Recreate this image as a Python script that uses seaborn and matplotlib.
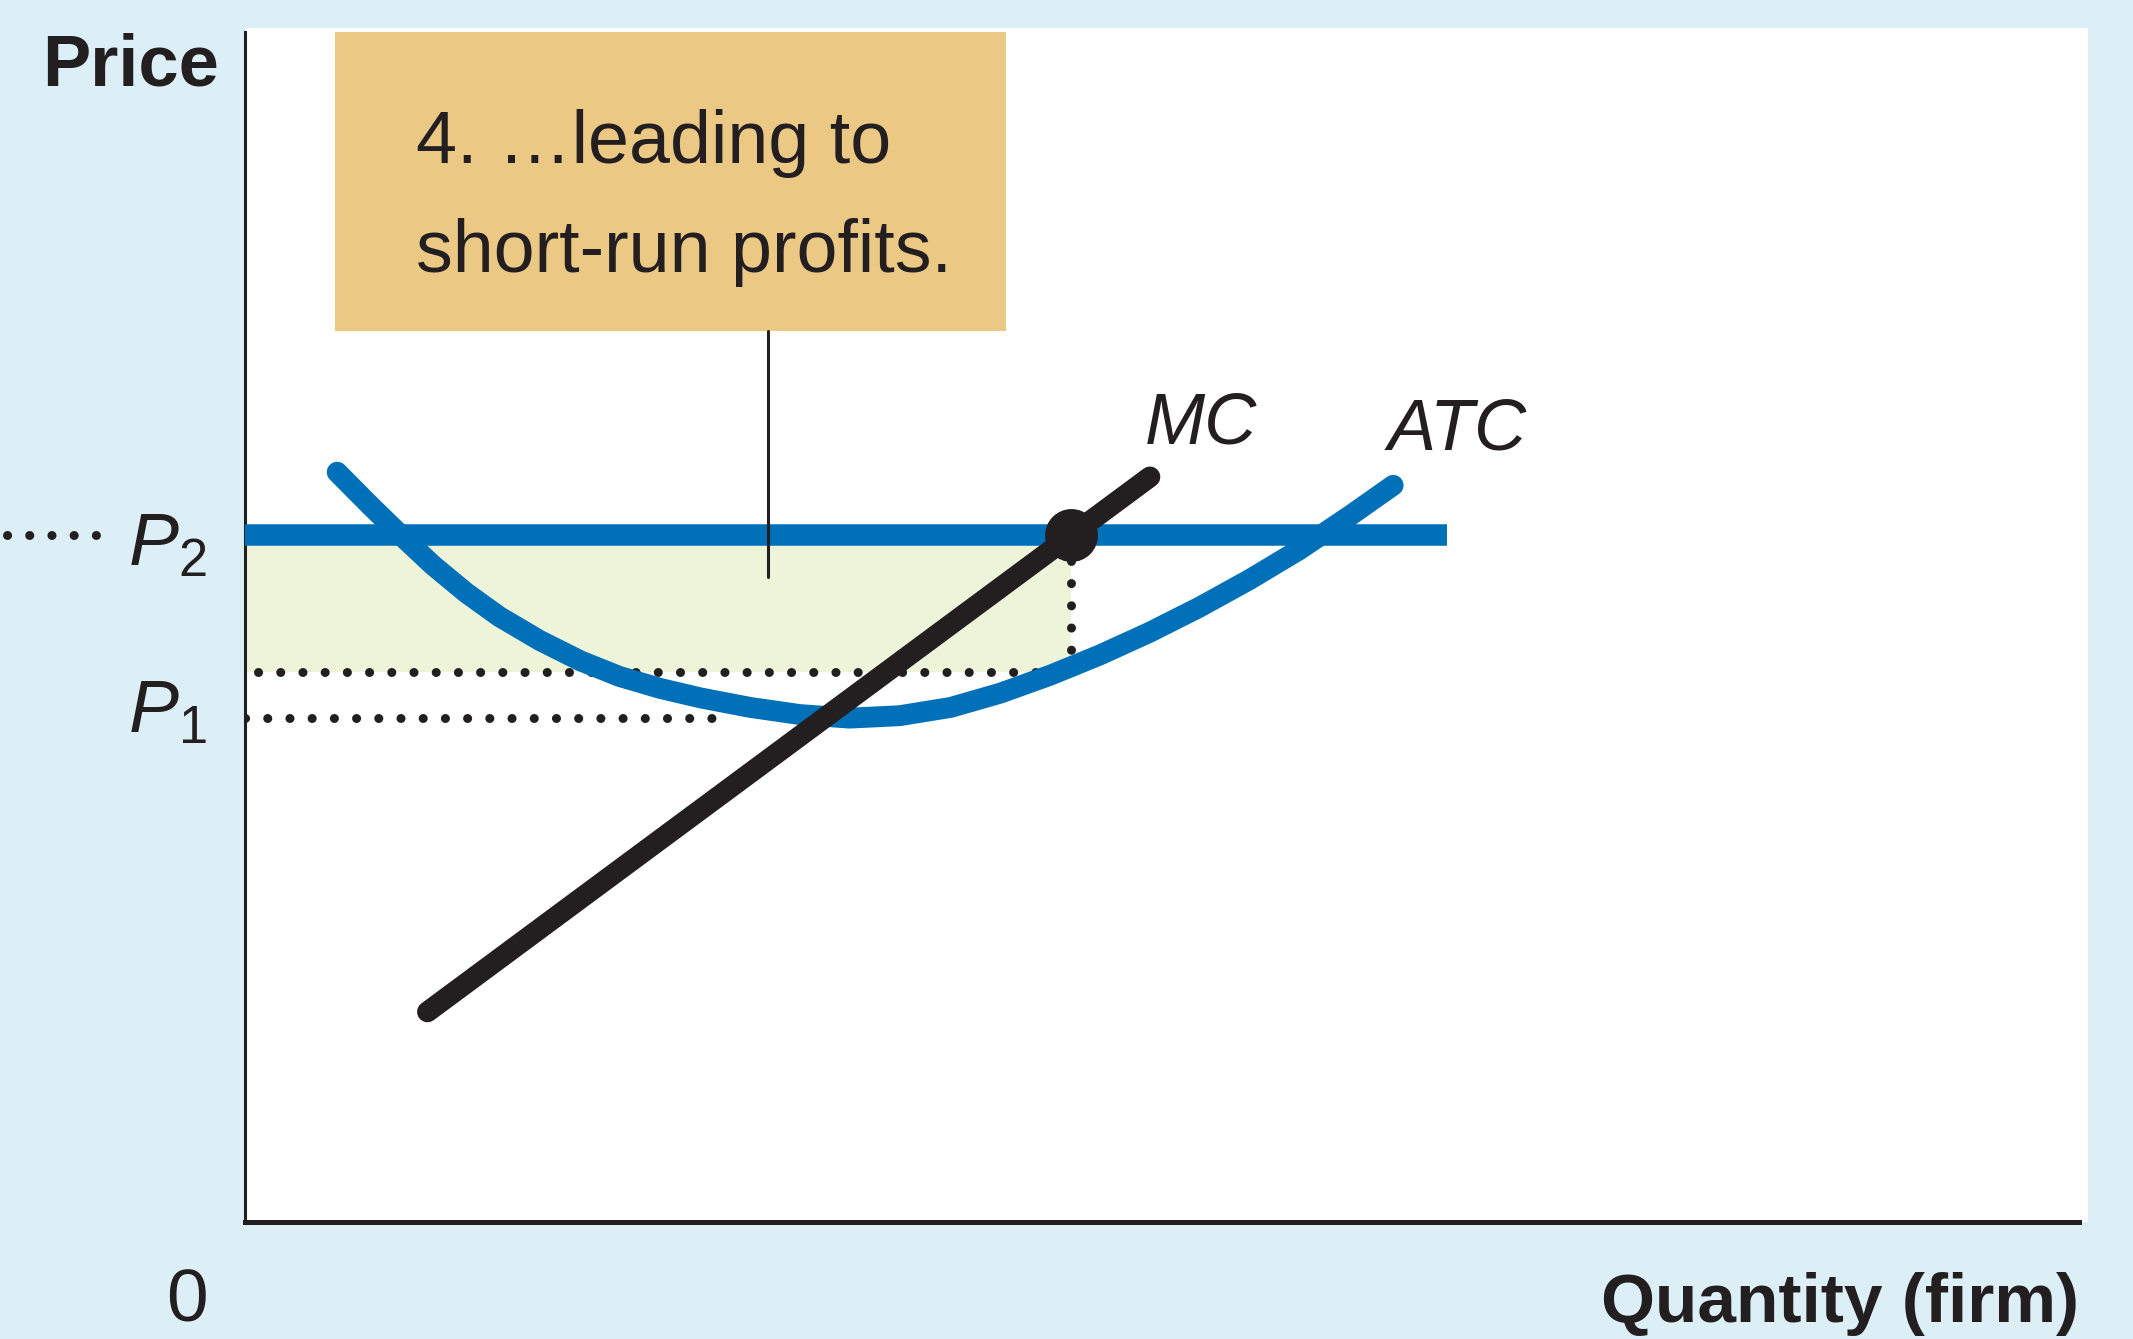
import matplotlib
matplotlib.use("Agg")
import numpy as np
import pandas as pd
import seaborn as sns
import matplotlib.pyplot as plt
from matplotlib.patches import Rectangle

# values (quantity / price in arbitrary units, axes span 0..10)
atc_q = [0.50, 0.68, 0.84, 1.02, 1.20, 1.38, 1.60, 1.82, 2.03, 2.25, 2.47, 2.74, 3.01,
         3.28, 3.55, 3.83, 4.10, 4.37, 4.64, 4.91, 5.18, 5.45, 5.72, 6.00, 6.23]
atc_p = [6.28, 6.00, 5.76, 5.50, 5.27, 5.07, 4.87, 4.70, 4.57, 4.47, 4.39, 4.31, 4.25,
         4.22, 4.24, 4.31, 4.43, 4.58, 4.75, 4.94, 5.15, 5.38, 5.63, 5.92, 6.17]
mc_q = [0.99, 4.91]
mc_p = [1.76, 6.24]
p2 = 5.75
p1 = 4.22
p2_q_end = 6.52
q_star = 4.48
atc_at_q_star = 4.61
p1_q_end = 2.57
price_labels = ["$P_2$", "$P_1$"]
curve_labels = ["MC", "ATC"]
callout = ["4. \u2026leading to", "short-run profits."]

BG = "#DDEFF6"
BOX = "#EBC985"
SHADE = "#EEF4DA"
BLUE = "#0070B8"
INK = "#231F20"

sns.set_theme(style="white")
plt.rcParams["font.family"] = ["Liberation Sans", "DejaVu Sans"]
plt.rcParams["mathtext.fontset"] = "custom"
plt.rcParams["mathtext.it"] = "Liberation Sans:italic"
plt.rcParams["mathtext.rm"] = "Liberation Sans"

fig = plt.figure(figsize=(21.33, 13.39), dpi=100, facecolor=BG)
ax = fig.add_axes([245 / 2133, 117 / 1339, 1843 / 2133, 1194 / 1339])
ax.set_facecolor("white")
ax.set_xlim(0, 10)
ax.set_ylim(0, 10)
ax.set_xticks([])
ax.set_yticks([])
for s in ["top", "right"]:
    ax.spines[s].set_visible(False)
ax.spines["left"].set_color(INK)
ax.spines["left"].set_linewidth(2.2)
ax.spines["left"].set_bounds(0, 9.97)
ax.spines["bottom"].set_color(INK)
ax.spines["bottom"].set_linewidth(3.6)
ax.spines["bottom"].set_bounds(0, 9.95)

# profit rectangle
ax.fill_between([0, q_star], atc_at_q_star, p2, color=SHADE, linewidth=0, zorder=1)

dots = dict(color=INK, linewidth=6.5, linestyle=(0, (0.01, 2.45)),
            dash_capstyle="round", zorder=2)
ax.plot([0, p1_q_end], [p1, p1], **dots)
ax.plot([0.07, q_star], [atc_at_q_star, atc_at_q_star], **dots)
ax.plot([q_star, q_star], [atc_at_q_star, p2], **dots)
ax.plot([-1.29, -0.77], [p2, p2], clip_on=False, **dots)

# price line, ATC and MC
sns.lineplot(x=[0, p2_q_end], y=[p2, p2], ax=ax, color=BLUE, linewidth=15.5,
             solid_capstyle="butt", zorder=3)
sns.lineplot(x=atc_q, y=atc_p, ax=ax, color=BLUE, linewidth=15,
             solid_capstyle="round", solid_joinstyle="round", zorder=4)
sns.lineplot(x=mc_q, y=mc_p, ax=ax, color=INK, linewidth=15,
             solid_capstyle="round", zorder=5)
sns.scatterplot(x=[q_star], y=[p2], ax=ax, color=INK, s=1450, linewidth=0, zorder=6)

# callout box and pointer
ax.add_patch(Rectangle((0.49, 7.46), 3.64, 2.51, facecolor=BOX, edgecolor="none", zorder=6))
ax.plot([2.84, 2.84], [7.46, 5.40], color=INK, linewidth=2.2, zorder=7)
ax.text(0.93, 8.87, callout[0], fontsize=53, color=INK, va="baseline", zorder=8)
ax.text(0.93, 7.96, callout[1], fontsize=53, color=INK, va="baseline", zorder=8)

# price labels
ax.text(-0.21, 5.50, price_labels[0], fontsize=54, color=INK, ha="right",
        va="baseline", clip_on=False)
ax.text(-0.21, 4.10, price_labels[1], fontsize=54, color=INK, ha="right",
        va="baseline", clip_on=False)

# curve labels
ax.text(4.88, 6.52, curve_labels[0], fontsize=52, style="italic", color=INK, va="baseline")
ax.text(6.20, 6.47, curve_labels[1], fontsize=52, style="italic", color=INK, va="baseline")

# axis labels
fig.text(42 / 2133, 1 - 85 / 1339, "Price", fontsize=52, fontweight="bold", color=INK,
         va="baseline")
fig.text(187 / 2133, 1 - 1322 / 1339, "0", fontsize=54, color=INK, ha="center",
         va="baseline")
fig.text(2079 / 2133, 1 - 1322 / 1339, "Quantity (firm)", fontsize=50, fontweight="bold",
         color=INK, ha="right", va="baseline")

fig.savefig("out.png", dpi=100, facecolor=BG)
